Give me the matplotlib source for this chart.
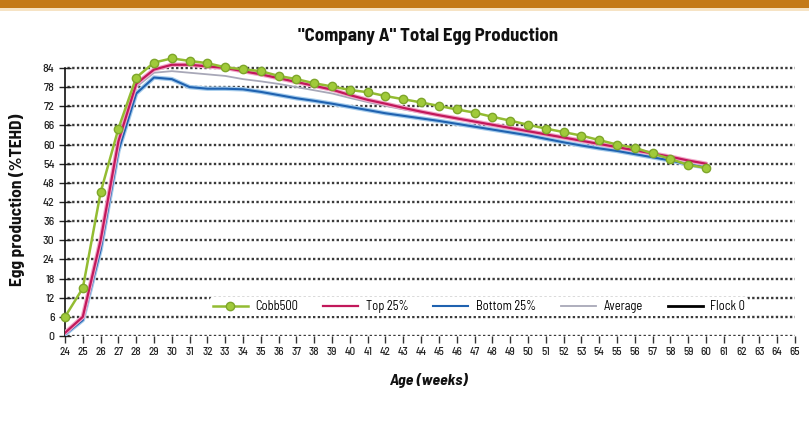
import matplotlib
matplotlib.use("Agg")
import matplotlib.pyplot as plt
from matplotlib.patches import Rectangle

# Flock age in weeks
weeks = list(range(24, 61))

# Weekly hen-day production (%)
cobb500 = [6, 15, 45, 65, 81, 85.7, 87, 86.2, 85.5, 84.2, 83.6, 83, 81.5, 80.5,
           79.2, 78.2, 77.1, 76.4, 75.2, 74.2, 73.2, 72.1, 71, 70, 68.7, 67.5,
           66.2, 65, 63.9, 62.8, 61.4, 60, 59, 57.2, 55.5, 53.6, 52.7]
top25 = [1, 6, 30, 61, 79, 83.5, 85, 85, 84.5, 84, 83, 82, 80.8, 79.6, 78.4,
         77.2, 75.5, 74, 72.8, 71.5, 70.3, 69.2, 68.2, 67.2, 66.2, 65.2, 64.2,
         63.2, 62.2, 61.2, 60.2, 59.2, 58.2, 57.2, 56.2, 55, 54]
bottom25 = [0.5, 5, 27, 58, 76, 81, 80.5, 78, 77.5, 77.5, 77.3, 76.5, 75.5,
            74.5, 73.7, 72.8, 71.8, 70.8, 69.8, 69, 68.2, 67.4, 66.5, 65.6,
            64.7, 63.8, 62.9, 61.8, 60.7, 59.7, 58.8, 58, 57, 56, 55, 53.8, 52.8]
average = [0.8, 5.5, 28.5, 59.5, 78, 82.5, 83, 82.5, 82, 81.5, 80.5, 79.8, 79,
           78, 77, 76, 74.6, 73.3, 72.1, 71, 70, 69, 68, 67, 66, 65, 64, 63,
           62, 61, 60, 59, 58, 57, 56, 54.6, 53.5]
flock0 = []

x_ticks = list(range(24, 66))
y_ticks = list(range(0, 85, 6))

narrow = ["Barlow Semi Condensed", "Archivo Narrow", "DejaVu Sans"]

fig = plt.figure(figsize=(8.09, 4.21), dpi=100)
fig.patch.set_facecolor("white")

# orange header band
fig.patches.append(Rectangle((0, 1 - 8 / 421), 1, 8 / 421, transform=fig.transFigure,
                             facecolor="#C47A18", edgecolor="none"))
fig.patches.append(Rectangle((0, 1 - 11 / 421), 1, 3 / 421, transform=fig.transFigure,
                             facecolor="#F6E3C4", edgecolor="none"))

ax = fig.add_axes([65 / 809, 85 / 421, 730 / 809, 284 / 421])
ax.set_xlim(24, 65)
ax.set_ylim(0, 89)

ax.set_yticks(y_ticks)
ax.set_xticks(x_ticks)
ax.set_yticklabels([str(v) for v in y_ticks], family=narrow, fontsize=8.5,
                   fontweight="medium", color="#222")
ax.set_xticklabels([str(v) for v in x_ticks], family=narrow, fontsize=8,
                   fontweight="medium", color="#222")

for v in y_ticks:
    ax.axhline(v, color="#3A3A3A", lw=1.7, ls=(0, (1, 1)), zorder=1, xmin=-0.01, xmax=1.003)

for s in ["top", "right", "bottom"]:
    ax.spines[s].set_visible(False)
ax.spines["left"].set_color("#111")
ax.spines["left"].set_linewidth(1.2)
ax.spines["left"].set_bounds(0, 84)
ax.tick_params(axis="y", direction="inout", length=9, width=1, color="#222", pad=3)
ax.tick_params(axis="x", direction="out", length=5, width=1, color="#333", pad=3)

ax.plot(weeks, average, color="#A8A8B8", lw=1.3, label="Average", zorder=3)
ax.plot(weeks, bottom25, color="#A4CBEC", lw=3.2, zorder=3, solid_capstyle="round")
ax.plot(weeks, bottom25, color="#1F62B0", lw=1.5, label="Bottom 25%", zorder=4)
ax.plot(weeks, top25, color="#F1A6C8", lw=3.2, zorder=4, solid_capstyle="round")
ax.plot(weeks, top25, color="#C2185B", lw=1.6, label="Top 25%", zorder=5)
ax.plot(weeks, cobb500, color="#93BC32", lw=1.8, marker="o", markersize=6,
        markerfacecolor="#A0CA3A", markeredgecolor="#7EA62A", label="Cobb500",
        zorder=6, clip_on=False)
ax.plot(weeks[:len(flock0)], flock0, color="black", lw=2, label="Flock 0", zorder=6)

handles, labels = ax.get_legend_handles_labels()
order = ["Cobb500", "Top 25%", "Bottom 25%", "Average", "Flock 0"]
hmap = dict(zip(labels, handles))
leg = ax.legend([hmap[k] for k in order], order, loc="center",
                bbox_to_anchor=(0.567, 0.103), ncol=5, frameon=True,
                prop={"family": narrow, "size": 9}, handlelength=2.8,
                columnspacing=2.0, borderpad=0.25, handletextpad=0.6)
leg.get_frame().set_facecolor("white")
leg.get_frame().set_edgecolor("none")
leg.get_frame().set_alpha(1)
leg.set_zorder(10)

fig.text(428 / 809, 1 - 36 / 421, "\"Company A\" Total Egg Production", ha="center",
         va="center", fontsize=13.5, fontweight="bold", family=narrow, color="#111")
fig.text(17 / 809, 1 - 200 / 421, "Egg production (%TEHD)", ha="center", va="center",
         rotation=90, fontsize=12.5, fontweight="bold", family=narrow, color="#111")
fig.text(428 / 809, 1 - 381 / 421, "Age (weeks)", ha="center", va="center",
         fontsize=11.5, fontweight="bold", style="italic", family=narrow, color="#111")

fig.savefig("out.png", dpi=100, facecolor="white")
